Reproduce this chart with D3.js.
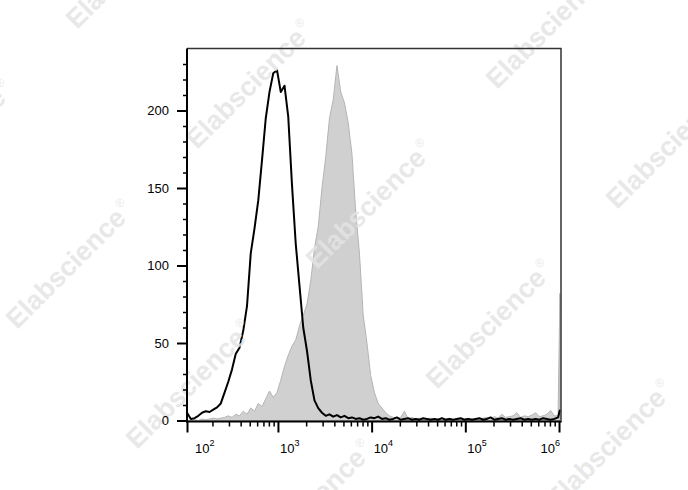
<!DOCTYPE html>
<html>
<head>
<meta charset="utf-8">
<script src="https://cdn.jsdelivr.net/npm/d3@7"></script>
<style>
  html, body { margin: 0; padding: 0; background: #fff; }
  svg { display: block; }
</style>
</head>
<body>
<svg id="chart" width="688" height="490"></svg>
<script>
// ---------- data ----------
// bin centres as log10 of fluorescence intensity
const binExp = [2.03,2.07,2.11,2.15,2.19,2.23,2.27,2.31,2.35,2.39,
  2.43,2.47,2.51,2.55,2.59,2.63,2.67,2.71,2.75,2.79,
  2.83,2.87,2.91,2.95,2.99,3.03,3.07,3.11,3.15,3.19,
  3.23,3.27,3.31,3.35,3.39,3.43,3.47,3.51,3.55,3.59,
  3.63,3.67,3.71,3.75,3.79,3.83,3.87,3.91,3.95,3.99,
  4.03,4.07,4.11,4.15,4.19,4.23,4.27,4.31,4.35,4.39,
  4.43,4.47,4.51,4.55,4.59,4.63,4.67,4.71,4.75,4.79,
  4.83,4.87,4.91,4.95,4.99,5.03,5.07,5.11,5.15,5.19,
  5.23,5.27,5.31,5.35,5.39,5.43,5.47,5.51,5.55,5.59,
  5.63,5.67,5.71,5.75,5.79,5.83,5.87,5.91,5.95,5.99,6.01];

// unstained control (black open line)
const controlCounts = [5,1,1.5,3,5,6,5.5,7,8.5,11,
  18,25,33,43,47,58,74,108,124,142,
  168,195,212,224,226,212,216,196,152,114,
  87,60,45,26,13,8,5,3,4,2.5,
  3.5,2,3,1.5,2,1,1.5,0.5,1,2,
  1.5,2.5,1,1.5,0.5,1,2,0.5,1,1.5,
  0.5,1,0.5,1.5,1,0.5,1,0.5,1.5,0.5,
  1,0.5,1,1.5,0.5,1,0.5,1,1.5,0.5,
  1,2,0.5,1,1.5,0.5,1,0.5,1,1.5,
  0.5,1,0.5,1,0.5,1.5,1,0.5,1,2,7];

// stained sample (grey filled)
const stainedCounts = [0,0,0.5,0,1,0.5,1,1.5,1,1.5,
  2,3,2,4,3,6,4,8,6,11,
  9,14,19,15,18,26,35,42,48,52,
  61,68,75,90,111,125,150,170,195,207,
  229,212,205,192,172,135,108,68,50,29,
  18,11,8,5,3,2,1.5,2,6,1,
  2,1,1.5,0.5,1,1.5,0.5,1,0.5,1,
  1.5,0.5,1,0.5,1,1.5,1,0.5,1,1.5,
  2,1,2.5,1.5,4,2,2.5,3,5,2,
  3,2.5,3.5,5,2.5,3,4,6.5,3,3,82];

const xDomain = [107, 1050000];
const yDomain = [0, 240];
const xMajorTicks = [1e2, 1e3, 1e4, 1e5, 1e6];
const xTickExponents = ["2", "3", "4", "5", "6"];
const xMinorTicks = [200,300,400,500,600,700,800,900,
  2000,3000,4000,5000,6000,7000,8000,9000,
  20000,30000,40000,50000,60000,70000,80000,90000,
  200000,300000,400000,500000,600000,700000,800000,900000];
const yMajorTicks = [0, 50, 100, 150, 200];
const yMinorTicks = [10,20,30,40,60,70,80,90,110,120,130,140,160,170,180,190,210,220,230];
const watermarkText = "Elabscience";

// ---------- layout ----------
const L = 187, R = 561, T = 48.5, B = 420.5;
const svg = d3.select("#chart");

const x = d3.scaleLog().domain(xDomain).range([L, R]).clamp(true);
const y = d3.scaleLinear().domain(yDomain).range([B, T]);

const control = binExp.map((e, i) => ({v: Math.pow(10, e), c: controlCounts[i]}));
const stained = binExp.map((e, i) => ({v: Math.pow(10, e), c: stainedCounts[i]}));

svg.append("defs").append("clipPath").attr("id", "plotclip")
  .append("rect").attr("x", L).attr("y", T).attr("width", R - L).attr("height", B - T + 1);

const plot = svg.append("g").attr("clip-path", "url(#plotclip)");

// grey filled histogram
const area = d3.area().x(d => x(d.v)).y0(y(0)).y1(d => y(d.c));
plot.append("path").datum(stained)
  .attr("d", area)
  .attr("fill", "#d0d0d0")
  .attr("stroke", "#b4b4b4")
  .attr("stroke-width", 1);

// watermarks
const wm = svg.append("g").attr("pointer-events", "none");
const wmPos = [[77,30],[197,150],[317,270],[437,390],[557,510],
  [-103,210],[17,330],[137,450],[257,570],[497,90],[617,210]];
wmPos.forEach(p => {
  const t = wm.append("text")
    .attr("transform", `translate(${p[0]},${p[1]}) rotate(-45)`)
    .attr("font-family", "Liberation Sans, Arial, sans-serif")
    .attr("font-weight", "bold")
    .attr("font-size", 27)
    .attr("fill", "#e4e4e4")
    .attr("fill-opacity", 0.85);
  t.append("tspan").text(watermarkText);
  t.append("tspan").attr("font-size", 12).attr("font-weight", "normal")
    .attr("dx", 2).attr("dy", -13).text("®");
});

// black control line
const line = d3.line().x(d => x(d.v)).y(d => y(d.c));
plot.append("path").datum(control)
  .attr("d", line)
  .attr("fill", "none")
  .attr("stroke", "#000")
  .attr("stroke-width", 2)
  .attr("stroke-linejoin", "round");

// frame: top and right
svg.append("path")
  .attr("d", `M${L},${T}H${R}V${B}`)
  .attr("fill", "none").attr("stroke", "#333").attr("stroke-width", 1.5);

// y axis
const yAxisMajor = d3.axisLeft(y).tickValues(yMajorTicks).tickSize(10).tickPadding(8);
const yAxisMinor = d3.axisLeft(y).tickValues(yMinorTicks).tickSize(4).tickFormat("");
const gyMinor = svg.append("g").attr("transform", `translate(${L},0)`).call(yAxisMinor);
const gy = svg.append("g").attr("transform", `translate(${L},0)`).call(yAxisMajor);
[gy, gyMinor].forEach(g => {
  g.select(".domain").remove();
  g.selectAll(".tick line").attr("stroke", "#000").attr("stroke-width", 1.5);
});
gy.selectAll(".tick line").attr("stroke-width", 2);
gy.selectAll(".tick text")
  .attr("font-family", "Liberation Sans, Arial, sans-serif")
  .attr("font-size", 13).attr("fill", "#000");

// x axis
const xAxisMajor = d3.axisBottom(x).tickValues(xMajorTicks).tickSize(11).tickFormat("");
const xAxisMinor = d3.axisBottom(x).tickValues(xMinorTicks).tickSize(5).tickFormat("");
const gxMinor = svg.append("g").attr("transform", `translate(0,${B + 1})`).call(xAxisMinor);
const gx = svg.append("g").attr("transform", `translate(0,${B + 1})`).call(xAxisMajor);
[gx, gxMinor].forEach(g => {
  g.select(".domain").remove();
  g.selectAll(".tick line").attr("stroke", "#000").attr("stroke-width", 1.5);
});
gx.selectAll(".tick line").attr("stroke-width", 2);

// axis lines
svg.append("line").attr("x1", L).attr("x2", L).attr("y1", T).attr("y2", B + 2)
  .attr("stroke", "#000").attr("stroke-width", 2);
svg.append("line").attr("x1", L - 1).attr("x2", R + 0.75).attr("y1", B + 1).attr("y2", B + 1)
  .attr("stroke", "#000").attr("stroke-width", 2);

// x tick labels 10^n
const labelG = svg.append("g")
  .attr("font-family", "Liberation Sans, Arial, sans-serif")
  .attr("fill", "#000");
xMajorTicks.forEach((v, i) => {
  const px = x(v);
  let anchor = "start", tx = px + 2;
  if (i === 0) { tx = 195; }
  if (i === xMajorTicks.length - 1) { anchor = "end"; tx = R - 1; }
  const t = labelG.append("text")
    .attr("x", tx).attr("y", 453)
    .attr("text-anchor", anchor)
    .attr("font-size", 13);
  t.append("tspan").text("10");
  t.append("tspan").attr("font-size", 9).attr("dy", -7).text(xTickExponents[i]);
});
</script>
</body>
</html>
